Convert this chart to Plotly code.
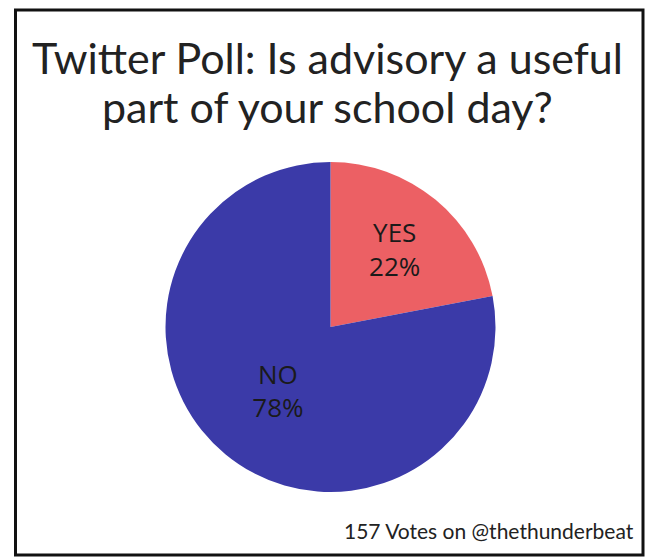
import plotly.graph_objects as go

labels = ["YES", "NO"]
values = [22, 78]
colors = ["#ec6064", "#3b3aa8"]
title_lines = ["Twitter Poll: Is advisory a useful", "part of your school day?"]
footer = "157 Votes on @thethunderbeat"

W, H = 665, 558

fig = go.Figure(go.Pie(
    labels=labels,
    values=values,
    sort=False,
    direction="clockwise",
    rotation=0,
    marker=dict(colors=colors, line=dict(width=0)),
    textinfo="label+percent",
    texttemplate="%{label}<br>%{percent:.0%}",
    textposition="inside",
    insidetextorientation="horizontal",
    textfont=dict(family="Open Sans", size=26, color="#1a1a1a"),
    domain=dict(x=[165.5 / W, 495.5 / W], y=[1 - 492 / H, 1 - 162 / H]),
    showlegend=False,
    hoverinfo="label+percent",
))

fig.add_shape(type="rect", xref="paper", yref="paper",
              x0=15.5 / W, x1=643 / W, y0=1 - 555 / H, y1=1 - 10 / H,
              line=dict(color="#111111", width=3))

for i, line in enumerate(title_lines):
    fig.add_annotation(text=line, xref="paper", yref="paper",
                       x=327 / W, y=1 - (58 + 49 * i) / H,
                       xanchor="center", yanchor="middle", showarrow=False,
                       font=dict(family="Lato", size=43, color="#222222"))

fig.add_annotation(text=footer, xref="paper", yref="paper",
                   x=636 / W, y=1 - 530 / H, xanchor="right", yanchor="middle",
                   showarrow=False,
                   font=dict(family="Lato", size=21, color="#222222"))

fig.update_layout(width=W, height=H, margin=dict(l=0, r=0, t=0, b=0),
                  paper_bgcolor="white", plot_bgcolor="white")

fig.write_html("out.html")
